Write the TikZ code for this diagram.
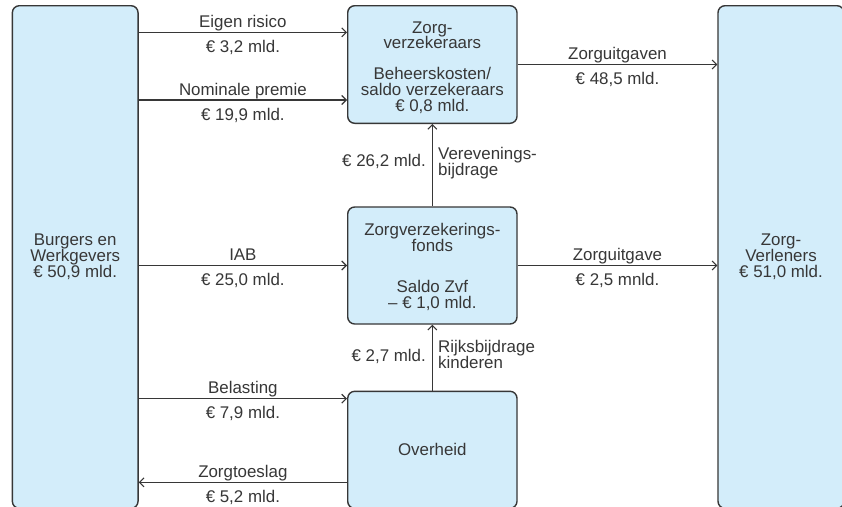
\documentclass[tikz,border=0pt]{standalone}
\usepackage{fontspec}
\setmainfont{Liberation Sans}
\usetikzlibrary{arrows.meta}
\definecolor{boxfill}{RGB}{211,237,250}
\definecolor{ink}{RGB}{55,55,55}
\newcommand\lblfont{\fontsize{16.9pt}{15.8pt}\selectfont}
\begin{document}
\begin{tikzpicture}[x=1pt,y=-1pt,
  box/.style={draw=ink, line width=1.4pt, fill=boxfill, rounded corners=7pt,
    align=center, inner sep=0pt, font=\lblfont, text=ink},
  flow/.style={draw=ink, line width=1.2pt,
    -{Straight Barb[length=4.5pt,width=9pt,line width=1.1pt]}},
  lab/.style={font=\lblfont, text=ink, anchor=base, inner sep=0pt},
  vlab/.style={font=\lblfont, text=ink, align=left, inner sep=0pt}]
\useasboundingbox (0,0) rectangle (842,506);
\clip (0,0) rectangle (842,506);
\fill[white] (0,0) rectangle (842,506);

% boxes
\node[box, minimum width=125.7pt, minimum height=502.6pt] (bw) at (75.2,257)
  {Burgers en\\Werkgevers\\€ 50,9 mld.};
\node[box, minimum width=126pt, minimum height=502.6pt] (zl) at (781,257)
  {Zorg-\\Verleners\\€ 51,0 mld.};
\node[box, minimum width=169.3pt, minimum height=117.6pt] (zv) at (432.35,64.5) {};
\node[font=\lblfont, text=ink, align=center, inner sep=0pt] (zvt) at (432.35,67.5)
  {Zorg-\\verzekeraars\\[15pt]Beheerskosten/\\saldo verzekeraars\\€ 0,8 mld.};
\node[box, minimum width=169.3pt, minimum height=117pt] (zf) at (432.35,265.5) {};
\node[font=\lblfont, text=ink, align=center, inner sep=0pt] (zft) at (432.35,267)
  {Zorgverzekerings-\\fonds\\[25pt]Saldo Zvf\\– € 1,0 mld.};
\node[box, minimum width=169.3pt, minimum height=117pt] (ov) at (432.35,449.8)
  {Overheid};

% horizontal flows
\draw[flow] (bw.east |- 0,32.3) -- (zv.west |- 0,32.3)
  node[lab, midway, yshift=5pt] {Eigen risico}
  node[lab, midway, yshift=-20pt] {€ 3,2 mld.};
\draw[flow] (bw.east |- 0,100) -- (zv.west |- 0,100)
  node[lab, midway, yshift=5pt] {Nominale premie}
  node[lab, midway, yshift=-20pt] {€ 19,9 mld.};
\draw[flow] (zv.east) -- (zl.west |- zv.east)
  node[lab, midway, yshift=5pt] {Zorguitgaven}
  node[lab, midway, yshift=-20pt] {€ 48,5 mld.};
\draw[flow] (bw.east |- zf.west) -- (zf.west)
  node[lab, midway, yshift=5pt] {IAB}
  node[lab, midway, yshift=-20pt] {€ 25,0 mld.};
\draw[flow] (zf.east) -- (zl.west |- zf.east)
  node[lab, midway, yshift=5pt] {Zorguitgave}
  node[lab, midway, yshift=-20pt] {€ 2,5 mnld.};
\draw[flow] (bw.east |- 0,398.7) -- (ov.west |- 0,398.7)
  node[lab, midway, yshift=5pt] {Belasting}
  node[lab, midway, yshift=-20pt] {€ 7,9 mld.};
\draw[flow] (ov.west |- 0,482.3) -- (bw.east |- 0,482.3)
  node[lab, midway, yshift=5pt] {Zorgtoeslag}
  node[lab, midway, yshift=-20pt] {€ 5,2 mld.};

% vertical flows
\draw[flow] (zf.north) -- (zv.south);
\draw[flow] (ov.north) -- (zf.south);
\node[vlab, anchor=base east] (l262) at (426,166.7) {€ 26,2 mld.};
\node[vlab, anchor=base west] (lver) at (438,175) {Verevenings-\\bijdrage};
\node[vlab, anchor=base east] (l27) at (426,361) {€ 2,7 mld.};
\node[vlab, anchor=base west] (lrijk) at (438,368.5) {Rijksbijdrage\\kinderen};
\end{tikzpicture}
\end{document}
